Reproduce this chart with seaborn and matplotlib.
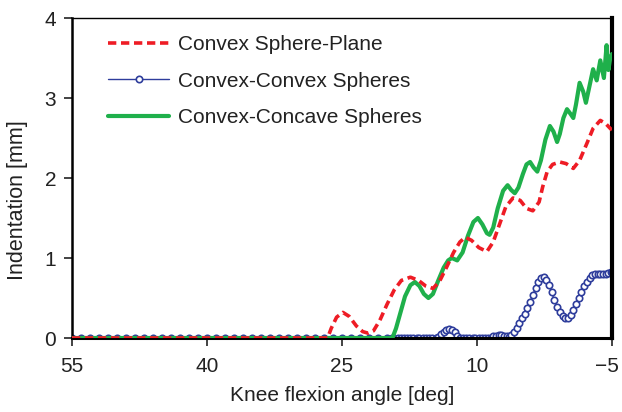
import matplotlib
matplotlib.use("Agg")
import matplotlib.pyplot as plt
import matplotlib.transforms as mtransforms
import seaborn as sns
import pandas as pd

sns.set_style("white")
plt.rcParams['font.family'] = ['Liberation Sans', 'DejaVu Sans']
plt.rcParams['axes.unicode_minus'] = True

# ---- data ----
plane_x = [55, 26.6, 26.2, 25.6, 24.9, 24.2, 23.4, 22.7, 22.1, 21.5, 20.8, 20.0, 19.2, 18.4, 17.4,
           16.5, 15.7, 14.9, 14.2, 13.4, 12.6, 11.9, 11.3, 10.6, 9.8, 8.9, 8.2, 7.5, 6.8, 6.0,
           5.2, 4.5, 3.8, 3.1, 2.7, 2.2, 1.6, 0.8, 0.1, -0.7, -1.4, -2.2, -2.9, -3.7, -4.3, -4.8, -5.0]
plane_y = [0, 0, 0.12, 0.26, 0.32, 0.27, 0.15, 0.08, 0.06, 0.09, 0.22, 0.42, 0.60, 0.72, 0.76,
           0.72, 0.65, 0.62, 0.70, 0.88, 1.07, 1.20, 1.26, 1.22, 1.13, 1.08, 1.20, 1.42, 1.64, 1.75,
           1.72, 1.62, 1.59, 1.70, 1.89, 2.08, 2.17, 2.20, 2.18, 2.12, 2.22, 2.43, 2.62, 2.72, 2.68, 2.62, 2.60]

concave_x = [55, 19.4, 19.0, 18.5, 18.0, 17.4, 16.9, 16.4, 15.9, 15.4, 14.9, 14.3, 13.7, 13.2, 12.8,
             12.2, 11.6, 11.0, 10.4, 9.9, 9.4, 8.9, 8.6, 8.2, 7.7, 7.1, 6.6, 6.2, 5.8, 5.4,
             4.9, 4.5, 4.1, 3.7, 3.3, 2.9, 2.4, 1.9, 1.5, 1.1, 0.8, 0.4, 0.0, -0.4, -0.7,
             -1.0, -1.4, -1.8, -2.1, -2.5, -2.9, -3.3, -3.7, -4.1, -4.4, -4.6, -4.8, -5.0]
concave_y = [0, 0, 0.12, 0.32, 0.52, 0.66, 0.70, 0.65, 0.55, 0.50, 0.55, 0.72, 0.88, 0.97, 1.00,
             0.97, 1.07, 1.28, 1.45, 1.50, 1.42, 1.31, 1.29, 1.38, 1.62, 1.84, 1.91, 1.85, 1.81, 1.88,
             2.05, 2.17, 2.20, 2.13, 2.08, 2.22, 2.48, 2.65, 2.58, 2.45, 2.55, 2.75, 2.86, 2.80, 2.75,
             2.92, 3.19, 3.08, 2.94, 3.15, 3.36, 3.22, 3.47, 3.25, 3.66, 3.35, 3.50, 3.55]

convex_x = [55, 54, 53, 52, 51, 50, 49, 48, 47, 46, 45, 44, 43, 42, 41, 40, 39, 38, 37, 36,
            35, 34, 33, 32, 31, 30, 29, 28, 27, 26, 25, 24, 23, 22, 21, 20,
            19.5, 19.2, 18.8, 18.5, 18.1, 17.8, 17.4, 17.1, 16.7, 16.4, 16.0, 15.7, 15.3, 15.0, 14.6,
            14.3, 14.0, 13.7, 13.4, 13.1, 12.8, 12.5, 12.2, 11.9,
            11.6, 11.2, 10.9, 10.5, 10.2, 9.8, 9.5, 9.1, 8.8, 8.5,
            8.2, 7.9, 7.6, 7.3, 7.0, 6.7,
            6.5, 6.2, 5.9, 5.6, 5.3, 5.0, 4.7, 4.4, 4.1, 3.8, 3.5, 3.2, 2.9, 2.6, 2.3, 2.0, 1.7,
            1.4, 1.1, 0.8, 0.5, 0.2, -0.1, -0.4, -0.7, -1.0, -1.3, -1.6, -1.9, -2.2, -2.5, -2.8,
            -3.1, -3.4, -3.7, -4.0, -4.3, -4.6, -4.9, -5.0]
convex_y = [0] * 36 + \
           [0, 0, 0, 0, 0, 0, 0, 0, 0, 0, 0, 0, 0, 0, 0,
            0.01, 0.05, 0.08, 0.10, 0.11, 0.10, 0.07, 0.03, 0.0,
            0, 0, 0, 0, 0, 0, 0, 0, 0, 0,
            0.02, 0.03, 0.04, 0.04, 0.03, 0.02,
            0.01, 0.04, 0.08, 0.13, 0.19, 0.25, 0.30, 0.37, 0.45, 0.54, 0.62, 0.70, 0.75, 0.76, 0.73, 0.66, 0.57,
            0.47, 0.39, 0.33, 0.28, 0.25, 0.25, 0.29, 0.35, 0.42, 0.50, 0.58, 0.65, 0.70, 0.75, 0.79,
            0.80, 0.80, 0.80, 0.80, 0.80, 0.81, 0.82, 0.83]

labels = ["Convex Sphere-Plane", "Convex-Convex Spheres", "Convex-Concave Spheres"]
x_ticks = [55, 40, 25, 10, -5]
y_ticks = [0, 1, 2, 3, 4]

df_plane = pd.DataFrame({"angle": plane_x, "ind": plane_y})
df_convex = pd.DataFrame({"angle": convex_x, "ind": convex_y})
df_concave = pd.DataFrame({"angle": concave_x, "ind": concave_y})

fig = plt.figure(figsize=(6.22, 4.12), dpi=100)
ax = fig.add_axes([72 / 622, (412 - 338) / 412, 540 / 622, 320 / 412])

red = "#ee1c25"
blue = "#2e3d9c"
green = "#1fb04b"
txt = "#222222"

sns.lineplot(data=df_convex, x="angle", y="ind", ax=ax, color=blue, lw=1.0,
             marker="o", markersize=4.6, markerfacecolor="white", markeredgecolor=blue,
             markeredgewidth=1.2, label=labels[1], estimator=None, sort=False, zorder=2)
sns.lineplot(data=df_concave, x="angle", y="ind", ax=ax, color=green, lw=3.0,
             label=labels[2], estimator=None, sort=False, zorder=3)
sns.lineplot(data=df_plane, x="angle", y="ind", ax=ax, color=red, lw=2.6,
             label=labels[0], estimator=None, sort=False, zorder=4)
ax.lines[-1].set_dashes((2.3, 1.3))

ax.set_xlim(55, -5)
ax.set_ylim(0, 4)
ax.set_xticks(x_ticks)
ax.set_xticklabels([("\u2212" + str(-t)) if t < 0 else str(t) for t in x_ticks])
ax.set_yticks(y_ticks)
ax.tick_params(axis="both", direction="out", length=6, width=1.2, labelsize=15,
               colors=txt, bottom=True, left=True, pad=5.5)
ax.tick_params(axis="x", pad=8)
ax.set_xlabel("Knee flexion angle [deg]", fontsize=15, color=txt, labelpad=7)
ax.set_ylabel("Indentation [mm]", fontsize=15.5, color=txt)
ax.yaxis.set_label_coords(-0.082, 0.43)

# keep the last tick label inside the canvas
last = ax.get_xticklabels()[-1]
last.set_transform(last.get_transform() +
                   mtransforms.ScaledTranslation(-5 / 100, 0, fig.dpi_scale_trans))

for side, w in {"left": 1.8, "bottom": 2.2, "right": 3.0, "top": 1.0}.items():
    ax.spines[side].set_visible(True)
    ax.spines[side].set_color("black")
    ax.spines[side].set_linewidth(w)

h, l = ax.get_legend_handles_labels()
order = [l.index(lbl) for lbl in labels]
leg = ax.legend([h[i] for i in order], [l[i] for i in order], loc="upper left",
                bbox_to_anchor=(0.047, 0.98), frameon=False, fontsize=15,
                handlelength=2.95, handletextpad=0.42, labelspacing=0.85, borderpad=0)
for t in leg.get_texts():
    t.set_color(txt)

fig.savefig("out.png", dpi=100)
